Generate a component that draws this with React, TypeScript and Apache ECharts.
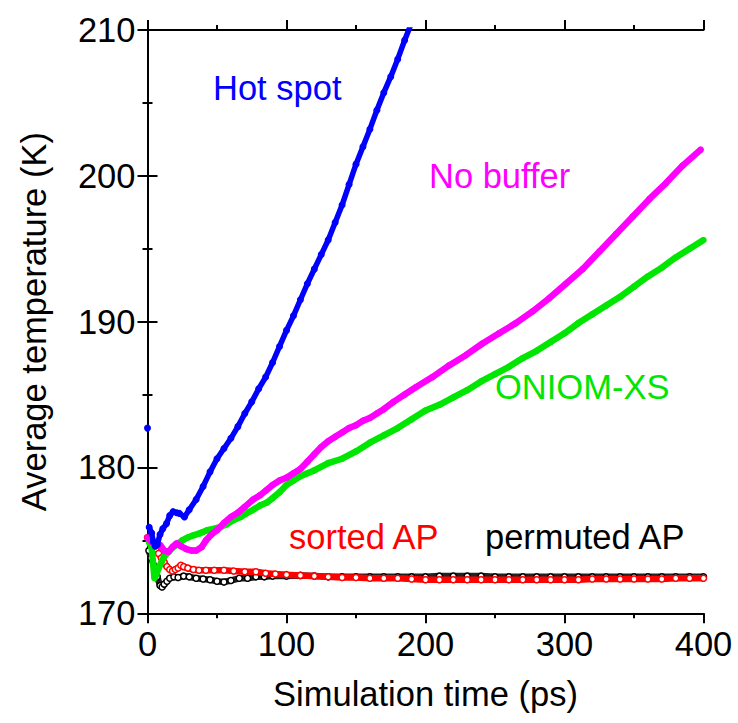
import React, { useEffect, useRef } from "react";
import * as echarts from "echarts";

// Simulation time (ps) / Average temperature (K)
const hotSpot: (number | string)[][] = [
  [0, 182.7], [0.6, "-"],
  [1.2, 175.9], [3, 175.5], [4.2, 174.9], [5.5, 174.6], [7, 174.7], [9, 175.4], [11, 175.8],
  [13.7, 176.15], [16, 176.7], [18.4, 176.97], [21, 176.9], [23, 176.85], [26.6, 176.6],
  [30, 177.1], [35, 177.8], [40, 178.7], [45, 179.7], [50, 180.6], [55, 181.3], [60, 182.0],
  [65, 182.8], [70, 183.7], [75, 184.5], [80, 185.4], [85, 186.2], [90, 187.2], [95, 188.3],
  [100, 189.4], [105, 190.4], [110, 191.5], [115, 192.6], [120, 193.6], [125, 194.6],
  [130, 195.6], [135, 196.8], [140, 198.0], [145, 199.4], [150, 200.8], [155, 202.0],
  [160, 203.2], [165, 204.5], [170, 205.7], [175, 206.8], [180, 208.0], [185, 209.3], [190, 210.5],
];

const noBuffer: number[][] = [
  [0, 175.2], [3, 174.9], [6, 174.6], [9, 174.7], [12, 174.3], [15, 174.2], [18, 174.55],
  [21, 174.8], [24, 174.6], [28, 174.4], [32, 174.3], [35, 174.3], [39, 174.55], [42, 175.0],
  [46, 175.4], [50, 175.7], [55, 176.2], [60, 176.6], [65, 176.9], [70, 177.3], [76, 177.8],
  [81, 178.1], [85, 178.4], [90, 178.8], [95, 179.1], [100, 179.3], [105, 179.6], [110, 179.9],
  [115, 180.4], [120, 180.9], [125, 181.4], [130, 181.8], [135, 182.1], [140, 182.4],
  [145, 182.7], [150, 182.9], [155, 183.2], [160, 183.4], [165, 183.7], [170, 184.0],
  [177, 184.5], [185, 185.0], [193, 185.5], [205, 186.2], [217, 187.0], [229, 187.7],
  [241, 188.5], [253, 189.2], [265, 189.9], [277, 190.7], [289, 191.6], [301, 192.6],
  [313, 193.6], [325, 194.8], [337, 196.0], [349, 197.2], [361, 198.4], [373, 199.5],
  [385, 200.7], [398, 201.8],
];

const oniomXS: number[][] = [
  [1, 174.9], [3, 174.5], [5, 172.4], [6.5, 172.7], [8, 173.1], [10, 173.5], [12, 173.9],
  [15, 174.2], [18, 174.5], [21, 174.7], [25, 175.0], [29, 175.2], [33, 175.35], [38, 175.5],
  [43, 175.7], [48, 175.8], [52, 175.9], [57, 176.1], [62, 176.4], [67, 176.6], [71, 176.85],
  [76, 177.1], [81, 177.4], [86, 177.6], [90, 177.9], [95, 178.3], [100, 178.8], [105, 179.1],
  [110, 179.4], [115, 179.6], [120, 179.8], [130, 180.3], [140, 180.6], [150, 181.1],
  [160, 181.7], [170, 182.2], [180, 182.7], [190, 183.3], [200, 183.9], [210, 184.3],
  [220, 184.8], [230, 185.3], [240, 185.9], [250, 186.4], [260, 186.9], [270, 187.5],
  [280, 188.0], [290, 188.6], [300, 189.2], [310, 189.9], [320, 190.5], [330, 191.1],
  [340, 191.7], [350, 192.4], [360, 193.1], [370, 193.7], [380, 194.4], [390, 195.0], [400, 195.6],
];

const sortedAP: number[][] = [
  [0, 175.2], [2, 175.0], [4, 174.6], [6, 174.4], [8, 174.1], [10, 173.8], [12, 173.5],
  [14, 173.2], [16, 173.0], [18, 172.9], [20, 173.0], [22, 173.1], [24, 173.3], [26, 173.2],
  [29, 173.1], [33, 173.0], [37, 172.95], [42, 172.95], [48, 172.95], [55, 172.95],
  [62, 172.9], [70, 172.85], [78, 172.85], [85, 172.75], [92, 172.7], [100, 172.65],
  [110, 172.6], [120, 172.55], [130, 172.5], [140, 172.45], [150, 172.45], [160, 172.4],
  [170, 172.4], [180, 172.4], [190, 172.35], [200, 172.3], [210, 172.3], [220, 172.3],
  [230, 172.3], [240, 172.3], [250, 172.3], [260, 172.3], [270, 172.3], [280, 172.3],
  [290, 172.3], [300, 172.3], [310, 172.3], [320, 172.35], [330, 172.35], [340, 172.35],
  [350, 172.35], [360, 172.35], [370, 172.35], [380, 172.4], [390, 172.4], [400, 172.4],
];

const permutedAP: number[][] = [
  [1, 174.3], [2.5, 173.8], [5, 173.2], [7, 172.5], [9, 171.9], [10.5, 171.8], [12, 172.0],
  [14, 172.2], [16, 172.4], [19, 172.5], [22, 172.45], [26, 172.55], [30, 172.5], [35, 172.4],
  [40, 172.35], [45, 172.3], [50, 172.2], [55, 172.15], [60, 172.25], [66, 172.4], [72, 172.4],
  [78, 172.5], [84, 172.5], [90, 172.55], [100, 172.55], [110, 172.6], [120, 172.55],
  [130, 172.5], [140, 172.5], [150, 172.5], [160, 172.5], [170, 172.5], [180, 172.5],
  [190, 172.5], [200, 172.5], [210, 172.55], [220, 172.55], [230, 172.55], [240, 172.55],
  [250, 172.5], [260, 172.5], [270, 172.5], [280, 172.5], [290, 172.5], [300, 172.5],
  [310, 172.5], [320, 172.5], [330, 172.5], [340, 172.5], [350, 172.5], [360, 172.5],
  [370, 172.5], [380, 172.5], [390, 172.5], [400, 172.5],
];

const xTicks = { min: 0, max: 400, interval: 100 };
const yTicks = { min: 170, max: 210, interval: 10 };

const annotations = [
  { text: "Hot spot", color: "#0000ff" },
  { text: "No buffer", color: "#ff00ff" },
  { text: "ONIOM-XS", color: "#00e600" },
  { text: "sorted AP", color: "#ff0000" },
  { text: "permuted AP", color: "#000000" },
];
const annotationPos = [
  [213, 88], [429, 176], [495, 387], [289, 537], [485, 537],
];

const FONT = "'Liberation Sans', Arial, Helvetica, sans-serif";
const FS = 34.5;

export default function App() {
  const ref = useRef<HTMLDivElement>(null);
  useEffect(() => {
    if (!ref.current) return;
    const chart = echarts.init(ref.current, null, { renderer: "svg" });
    const axisLine = { show: true, lineStyle: { color: "#000", width: 2 } };
    const axisTick = { show: true, inside: false, length: 10, lineStyle: { color: "#000", width: 2 } };
    const minorTick = { show: true, splitNumber: 2, length: 5, lineStyle: { color: "#000", width: 2 } };
    const label = { color: "#000", fontSize: FS, fontFamily: FONT };
    chart.setOption({
      animation: false,
      backgroundColor: "#ffffff",
      grid: { left: 147.5, right: 34.5, top: 30, bottom: 109.7, containLabel: false, outerBoundsMode: "none" },
      xAxis: [
        {
          type: "value", position: "bottom", ...xTicks,
          axisLine, axisTick, minorTick, splitLine: { show: false },
          axisLabel: { ...label, margin: 13 },
          name: "Simulation time (ps)", nameLocation: "middle", nameGap: 63,
          nameTextStyle: { ...label },
        },
        {
          type: "value", position: "top", ...xTicks,
          axisLine, axisTick, minorTick, splitLine: { show: false },
          axisLabel: { show: false },
        },
      ],
      yAxis: [
        {
          type: "value", position: "left", ...yTicks,
          axisLine, axisTick, minorTick, splitLine: { show: false },
          axisLabel: { ...label, margin: 12 },
          name: "Average temperature (K)", nameLocation: "middle", nameGap: 96,
          nameTextStyle: { ...label },
        },
        {
          type: "value", position: "right", ...yTicks,
          axisLine, axisTick, minorTick, splitLine: { show: false },
          axisLabel: { show: false },
        },
      ],
      series: [
        {
          name: "permuted AP", type: "line", data: permutedAP,
          lineStyle: { color: "#222", width: 6.5 },
          itemStyle: { color: "#fff", borderColor: "#000", borderWidth: 1.5 },
          symbol: "circle", symbolSize: 6, showSymbol: true, z: 2,
        },
        {
          name: "sorted AP", type: "line", data: sortedAP,
          lineStyle: { color: "#ff0000", width: 6.5 },
          itemStyle: { color: "#fff", borderColor: "#ff0000", borderWidth: 1.5 },
          symbol: "circle", symbolSize: 6, showSymbol: true, z: 3,
        },
        {
          name: "ONIOM-XS", type: "line", data: oniomXS,
          lineStyle: { color: "#00e600", width: 6.5 },
          itemStyle: { color: "#00e600" },
          symbol: "circle", symbolSize: 6.5, showSymbol: true, z: 4,
        },
        {
          name: "No buffer", type: "line", data: noBuffer,
          lineStyle: { color: "#ff00ff", width: 6.5 },
          itemStyle: { color: "#ff00ff" },
          symbol: "circle", symbolSize: 6.5, showSymbol: true, z: 5,
        },
        {
          name: "Hot spot", type: "line", data: hotSpot, connectNulls: false,
          lineStyle: { color: "#0000ff", width: 5.5 },
          itemStyle: { color: "#0000ff" },
          symbol: "circle", symbolSize: 7, showSymbol: true, z: 6, clip: true,
        },
      ],
      graphic: annotations.map((a, i) => ({
        type: "text",
        left: annotationPos[i][0],
        top: annotationPos[i][1] - FS / 2,
        z: 100,
        style: {
          text: a.text, fill: a.color, fontSize: FS, fontFamily: FONT,
        },
      })),
    });
    return () => chart.dispose();
  }, []);
  return (
    <div
      ref={ref}
      style={{ position: "absolute", left: 0, top: 0, width: 738, height: 723, background: "#fff" }}
    />
  );
}
